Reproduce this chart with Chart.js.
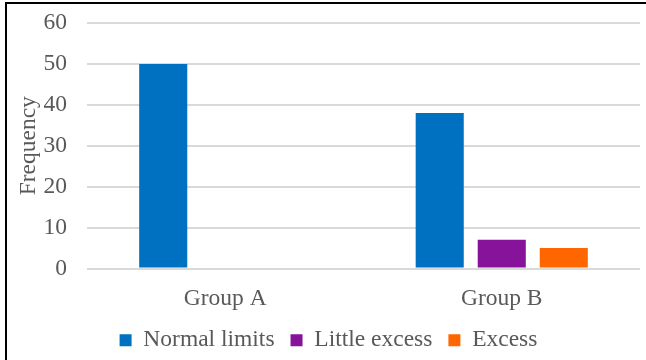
<!DOCTYPE html>
<html>
<head>
<meta charset="utf-8">
<script src="https://cdn.jsdelivr.net/npm/chart.js@4/dist/chart.umd.min.js"></script>
<style>
  html, body { margin: 0; padding: 0; background: #fff; }
  #wrap { position: relative; width: 646px; height: 360px; }
  #frame {
    position: absolute; left: 5px; top: 2px; right: 0; bottom: 0;
    border-left: 2px solid #000; border-top: 2px solid #000;
    pointer-events: none;
  }
</style>
</head>
<body>
<div id="wrap">
  <canvas id="freq_chart" width="646" height="360"></canvas>
  <div id="frame"></div>
</div>
<script>
  var groups = ["Group A", "Group B"];
  var normalLimits = [50, 38];
  var littleExcess = [0, 7];
  var excess = [0, 5];
  var yTicks = [0, 10, 20, 30, 40, 50, 60];

  var serif = "'Liberation Serif', 'Times New Roman', serif";
  var textGray = "#595959";
  var fontSize = 23.5;

  var chartdata = {
    labels: groups,
    datasets: [
      {
        label: "Normal limits",
        backgroundColor: "#0070C0",
        data: normalLimits
      },
      {
        label: "Little excess",
        backgroundColor: "#87139B",
        data: littleExcess
      },
      {
        label: "Excess",
        backgroundColor: "#FF6600",
        data: excess
      }
    ]
  };

  var ctx = document.getElementById("freq_chart");

  var barGraph = new Chart(ctx, {
    type: 'bar',
    data: chartdata,
    options: {
      responsive: false,
      animation: false,
      categoryPercentage: 0.673,
      barPercentage: 0.775,
      layout: { padding: { top: 23, right: 6, left: 17, bottom: -2 } },
      plugins: {
        tooltip: { enabled: false },
        legend: {
          position: 'bottom',
          labels: {
            color: textGray,
            font: { family: serif, size: fontSize },
            boxWidth: 12,
            boxHeight: 12,
            padding: 16
          }
        }
      },
      scales: {
        x: {
          grid: { display: false, drawTicks: false },
          border: { display: false },
          ticks: {
            color: textGray,
            font: { family: serif, size: fontSize },
            padding: 16
          },
          afterFit: function(scale) { scale.height = 44; }
        },
        y: {
          min: 0,
          max: 60,
          afterBuildTicks: function(scale) {
            scale.ticks = yTicks.map(function(v) { return { value: v }; });
          },
          grid: { color: "#d9d9d9", lineWidth: 2, drawTicks: false },
          border: { display: false },
          ticks: {
            color: textGray,
            font: { family: serif, size: fontSize },
            padding: 20
          },
          title: {
            display: true,
            text: "Frequency",
            color: textGray,
            font: { family: serif, size: fontSize },
            padding: { top: -2, bottom: 0 }
          },
          afterFit: function(scale) {
            scale.width = 70;
            scale.paddingTop = 0;
            scale.paddingBottom = 0;
          }
        }
      }
    }
  });
</script>
</body>
</html>
